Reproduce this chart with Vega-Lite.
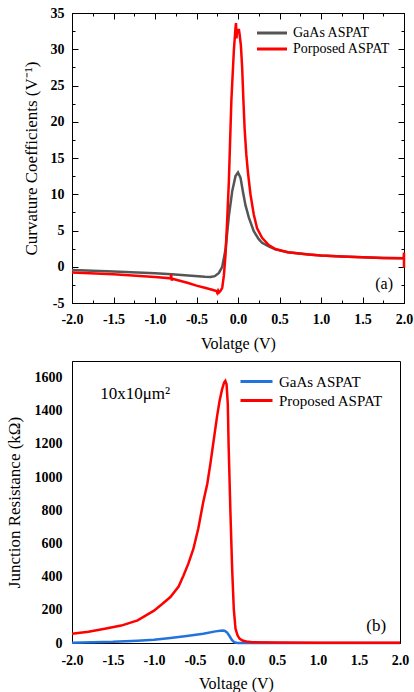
{
  "$schema": "https://vega.github.io/schema/vega-lite/v6.json",
  "padding": {"left": 4, "top": 5, "right": 0, "bottom": 0},
  "spacing": 8,
  "datasets": {
    "a": [
      {"v": -2.0, "k": -0.45, "s": "GaAs ASPAT"},
      {"v": -1.5, "k": -0.65, "s": "GaAs ASPAT"},
      {"v": -1.0, "k": -0.9, "s": "GaAs ASPAT"},
      {"v": -0.8, "k": -1.04, "s": "GaAs ASPAT"},
      {"v": -0.6, "k": -1.2, "s": "GaAs ASPAT"},
      {"v": -0.4, "k": -1.37, "s": "GaAs ASPAT"},
      {"v": -0.33, "k": -1.4, "s": "GaAs ASPAT"},
      {"v": -0.28, "k": -1.3, "s": "GaAs ASPAT"},
      {"v": -0.23, "k": -0.85, "s": "GaAs ASPAT"},
      {"v": -0.19, "k": 0.0, "s": "GaAs ASPAT"},
      {"v": -0.15, "k": 2.4, "s": "GaAs ASPAT"},
      {"v": -0.11, "k": 7.0, "s": "GaAs ASPAT"},
      {"v": -0.07, "k": 10.4, "s": "GaAs ASPAT"},
      {"v": -0.03, "k": 12.5, "s": "GaAs ASPAT"},
      {"v": 0.0, "k": 13.0, "s": "GaAs ASPAT"},
      {"v": 0.03, "k": 12.3, "s": "GaAs ASPAT"},
      {"v": 0.06, "k": 10.3, "s": "GaAs ASPAT"},
      {"v": 0.09, "k": 8.5, "s": "GaAs ASPAT"},
      {"v": 0.13, "k": 6.8, "s": "GaAs ASPAT"},
      {"v": 0.19, "k": 4.9, "s": "GaAs ASPAT"},
      {"v": 0.25, "k": 3.8, "s": "GaAs ASPAT"},
      {"v": 0.29, "k": 3.3, "s": "GaAs ASPAT"},
      {"v": 0.37, "k": 2.8, "s": "GaAs ASPAT"},
      {"v": 0.45, "k": 2.4, "s": "GaAs ASPAT"},
      {"v": 0.6, "k": 2.0, "s": "GaAs ASPAT"},
      {"v": 0.85, "k": 1.7, "s": "GaAs ASPAT"},
      {"v": 1.0, "k": 1.55, "s": "GaAs ASPAT"},
      {"v": 1.25, "k": 1.4, "s": "GaAs ASPAT"},
      {"v": 1.5, "k": 1.3, "s": "GaAs ASPAT"},
      {"v": 1.75, "k": 1.22, "s": "GaAs ASPAT"},
      {"v": 2.0, "k": 1.17, "s": "GaAs ASPAT"},
      {"v": -2.0, "k": -0.8, "s": "Porposed ASPAT"},
      {"v": -1.5, "k": -1.05, "s": "Porposed ASPAT"},
      {"v": -1.0, "k": -1.4, "s": "Porposed ASPAT"},
      {"v": -0.81, "k": -1.6, "s": "Porposed ASPAT"},
      {"v": -0.805, "k": -1.05, "s": "Porposed ASPAT"},
      {"v": -0.8, "k": -1.9, "s": "Porposed ASPAT"},
      {"v": -0.79, "k": -1.65, "s": "Porposed ASPAT"},
      {"v": -0.6, "k": -2.25, "s": "Porposed ASPAT"},
      {"v": -0.5, "k": -2.6, "s": "Porposed ASPAT"},
      {"v": -0.4, "k": -2.9, "s": "Porposed ASPAT"},
      {"v": -0.3, "k": -3.2, "s": "Porposed ASPAT"},
      {"v": -0.26, "k": -3.35, "s": "Porposed ASPAT"},
      {"v": -0.25, "k": -3.6, "s": "Porposed ASPAT"},
      {"v": -0.24, "k": -3.3, "s": "Porposed ASPAT"},
      {"v": -0.23, "k": -3.55, "s": "Porposed ASPAT"},
      {"v": -0.21, "k": -3.3, "s": "Porposed ASPAT"},
      {"v": -0.19, "k": -2.9, "s": "Porposed ASPAT"},
      {"v": -0.17, "k": -1.2, "s": "Porposed ASPAT"},
      {"v": -0.15, "k": 1.7, "s": "Porposed ASPAT"},
      {"v": -0.13, "k": 6.5, "s": "Porposed ASPAT"},
      {"v": -0.11, "k": 11.8, "s": "Porposed ASPAT"},
      {"v": -0.08, "k": 22.9, "s": "Porposed ASPAT"},
      {"v": -0.05, "k": 29.8, "s": "Porposed ASPAT"},
      {"v": -0.03, "k": 33.0, "s": "Porposed ASPAT"},
      {"v": -0.024, "k": 33.6, "s": "Porposed ASPAT"},
      {"v": -0.018, "k": 31.5, "s": "Porposed ASPAT"},
      {"v": -0.01, "k": 32.8, "s": "Porposed ASPAT"},
      {"v": 0.0, "k": 32.3, "s": "Porposed ASPAT"},
      {"v": 0.01, "k": 32.8, "s": "Porposed ASPAT"},
      {"v": 0.02, "k": 32.0, "s": "Porposed ASPAT"},
      {"v": 0.035, "k": 30.5, "s": "Porposed ASPAT"},
      {"v": 0.05, "k": 27.5, "s": "Porposed ASPAT"},
      {"v": 0.065, "k": 23.0, "s": "Porposed ASPAT"},
      {"v": 0.08, "k": 19.0, "s": "Porposed ASPAT"},
      {"v": 0.1, "k": 15.5, "s": "Porposed ASPAT"},
      {"v": 0.12, "k": 13.0, "s": "Porposed ASPAT"},
      {"v": 0.15, "k": 10.0, "s": "Porposed ASPAT"},
      {"v": 0.19, "k": 7.2, "s": "Porposed ASPAT"},
      {"v": 0.23, "k": 5.3, "s": "Porposed ASPAT"},
      {"v": 0.29, "k": 4.0, "s": "Porposed ASPAT"},
      {"v": 0.37, "k": 3.0, "s": "Porposed ASPAT"},
      {"v": 0.45, "k": 2.45, "s": "Porposed ASPAT"},
      {"v": 0.6, "k": 2.0, "s": "Porposed ASPAT"},
      {"v": 0.85, "k": 1.7, "s": "Porposed ASPAT"},
      {"v": 1.0, "k": 1.55, "s": "Porposed ASPAT"},
      {"v": 1.25, "k": 1.4, "s": "Porposed ASPAT"},
      {"v": 1.5, "k": 1.3, "s": "Porposed ASPAT"},
      {"v": 1.75, "k": 1.22, "s": "Porposed ASPAT"},
      {"v": 1.995, "k": 1.17, "s": "Porposed ASPAT"},
      {"v": 2.0, "k": 1.94, "s": "Porposed ASPAT"},
      {"v": 2.0, "k": -0.14, "s": "Porposed ASPAT"},
      {"v": 2.0, "k": 1.1, "s": "Porposed ASPAT"}
    ],
    "b": [
      {"v": -2.0, "r": 2, "s": "GaAs ASPAT"},
      {"v": -1.5, "r": 7, "s": "GaAs ASPAT"},
      {"v": -1.2, "r": 14, "s": "GaAs ASPAT"},
      {"v": -1.0, "r": 20, "s": "GaAs ASPAT"},
      {"v": -0.8, "r": 30, "s": "GaAs ASPAT"},
      {"v": -0.6, "r": 42, "s": "GaAs ASPAT"},
      {"v": -0.4, "r": 56, "s": "GaAs ASPAT"},
      {"v": -0.25, "r": 70, "s": "GaAs ASPAT"},
      {"v": -0.17, "r": 76, "s": "GaAs ASPAT"},
      {"v": -0.14, "r": 74, "s": "GaAs ASPAT"},
      {"v": -0.11, "r": 64, "s": "GaAs ASPAT"},
      {"v": -0.08, "r": 42, "s": "GaAs ASPAT"},
      {"v": -0.05, "r": 18, "s": "GaAs ASPAT"},
      {"v": -0.02, "r": 4, "s": "GaAs ASPAT"},
      {"v": 0.02, "r": 0.5, "s": "GaAs ASPAT"},
      {"v": 2.0, "r": 0.5, "s": "GaAs ASPAT"},
      {"v": -2.0, "r": 56, "s": "Proposed ASPAT"},
      {"v": -1.8, "r": 68, "s": "Proposed ASPAT"},
      {"v": -1.6, "r": 86, "s": "Proposed ASPAT"},
      {"v": -1.4, "r": 105, "s": "Proposed ASPAT"},
      {"v": -1.2, "r": 136, "s": "Proposed ASPAT"},
      {"v": -1.0, "r": 195, "s": "Proposed ASPAT"},
      {"v": -0.9, "r": 235, "s": "Proposed ASPAT"},
      {"v": -0.8, "r": 277, "s": "Proposed ASPAT"},
      {"v": -0.7, "r": 340, "s": "Proposed ASPAT"},
      {"v": -0.64, "r": 407, "s": "Proposed ASPAT"},
      {"v": -0.58, "r": 480, "s": "Proposed ASPAT"},
      {"v": -0.52, "r": 567, "s": "Proposed ASPAT"},
      {"v": -0.46, "r": 690, "s": "Proposed ASPAT"},
      {"v": -0.4, "r": 848, "s": "Proposed ASPAT"},
      {"v": -0.35, "r": 960, "s": "Proposed ASPAT"},
      {"v": -0.31, "r": 1088, "s": "Proposed ASPAT"},
      {"v": -0.27, "r": 1230, "s": "Proposed ASPAT"},
      {"v": -0.23, "r": 1369, "s": "Proposed ASPAT"},
      {"v": -0.2, "r": 1460, "s": "Proposed ASPAT"},
      {"v": -0.17, "r": 1529, "s": "Proposed ASPAT"},
      {"v": -0.145, "r": 1570, "s": "Proposed ASPAT"},
      {"v": -0.13, "r": 1580, "s": "Proposed ASPAT"},
      {"v": -0.115, "r": 1560, "s": "Proposed ASPAT"},
      {"v": -0.1, "r": 1440, "s": "Proposed ASPAT"},
      {"v": -0.09, "r": 1190, "s": "Proposed ASPAT"},
      {"v": -0.068, "r": 788, "s": "Proposed ASPAT"},
      {"v": -0.047, "r": 447, "s": "Proposed ASPAT"},
      {"v": -0.027, "r": 206, "s": "Proposed ASPAT"},
      {"v": -0.006, "r": 86, "s": "Proposed ASPAT"},
      {"v": 0.02, "r": 45, "s": "Proposed ASPAT"},
      {"v": 0.043, "r": 26, "s": "Proposed ASPAT"},
      {"v": 0.08, "r": 15, "s": "Proposed ASPAT"},
      {"v": 0.125, "r": 9, "s": "Proposed ASPAT"},
      {"v": 0.2, "r": 5, "s": "Proposed ASPAT"},
      {"v": 0.5, "r": 3, "s": "Proposed ASPAT"},
      {"v": 1.0, "r": 2, "s": "Proposed ASPAT"},
      {"v": 2.0, "r": 2, "s": "Proposed ASPAT"}
    ]
  },
  "vconcat": [
    {
      "width": 332,
      "height": 290,
      "layer": [
        {
          "data": {"name": "a"},
          "mark": {"type": "line", "strokeWidth": 2.5},
          "encoding": {
            "x": {"field": "v", "type": "quantitative",
              "scale": {"domain": [-2, 2], "nice": false, "zero": false},
              "axis": {"title": "Volatge (V)", "orient": "bottom", "labelOverlap": false, "labelFlush": false,
                "values": [-2, -1.75, -1.5, -1.25, -1, -0.75, -0.5, -0.25, 0, 0.25, 0.5, 0.75, 1, 1.25, 1.5, 1.75, 2],
                "labelExpr": "abs(datum.value*2 - round(datum.value*2)) < 0.01 ? replace(format(datum.value, '.1f'), '−', '-') : ''",
                "tickSize": {"condition": {"test": "abs(datum.value*2 - round(datum.value*2)) > 0.01", "value": -3}, "value": -6},
                "labelPadding": 15, "titlePadding": 6, "titleFontSize": 16}},
            "y": {"field": "k", "type": "quantitative",
              "scale": {"domain": [-5, 35], "nice": false, "zero": false},
              "axis": {"title": "Curvature Coefficients (V⁻¹)", "orient": "left", "labelOverlap": false, "labelFlush": false,
                "values": [-5, -2.5, 0, 2.5, 5, 7.5, 10, 12.5, 15, 17.5, 20, 22.5, 25, 27.5, 30, 32.5, 35],
                "labelExpr": "abs(datum.value/5 - round(datum.value/5)) < 0.01 ? replace(format(datum.value, 'd'), '−', '-') : ''",
                "tickSize": {"condition": {"test": "abs(datum.value/5 - round(datum.value/5)) > 0.01", "value": -3}, "value": -6},
                "labelPadding": 14, "titlePadding": 10, "titleFontSize": 17}},
            "color": {"field": "s", "type": "nominal",
              "scale": {"domain": ["GaAs ASPAT", "Porposed ASPAT"], "range": ["#555555", "#ff0000"]},
              "legend": {"title": null, "orient": "none", "legendX": 191, "legendY": 11,
                "symbolType": "M-2,0H2", "symbolSize": 225, "symbolStrokeWidth": 3,
                "labelFontSize": 14, "labelFont": "Liberation Serif", "labelFontWeight": "normal", "labelColor": "black",
                "rowPadding": 0, "labelOffset": 12}},
            "order": {"value": null}
          }
        },
        {
          "data": {"values": [{"v": 1.76, "k": -2.4, "t": "(a)"}]},
          "mark": {"type": "text", "fontSize": 16, "font": "Liberation Serif", "color": "black"},
          "encoding": {
            "x": {"field": "v", "type": "quantitative",
              "scale": {"domain": [-2, 2], "nice": false, "zero": false},
              "axis": {"title": null, "orient": "top", "labels": false,
                "values": [-2, -1.75, -1.5, -1.25, -1, -0.75, -0.5, -0.25, 0, 0.25, 0.5, 0.75, 1, 1.25, 1.5, 1.75, 2],
                "tickSize": {"condition": {"test": "abs(datum.value*2 - round(datum.value*2)) > 0.01", "value": -3}, "value": -6}}},
            "y": {"field": "k", "type": "quantitative",
              "scale": {"domain": [-5, 35], "nice": false, "zero": false},
              "axis": {"title": null, "orient": "right", "labels": false,
                "values": [-5, -2.5, 0, 2.5, 5, 7.5, 10, 12.5, 15, 17.5, 20, 22.5, 25, 27.5, 30, 32.5, 35],
                "tickSize": {"condition": {"test": "abs(datum.value/5 - round(datum.value/5)) > 0.01", "value": -3}, "value": -6}}},
            "text": {"field": "t"}
          }
        }
      ],
      "resolve": {"axis": {"x": "independent", "y": "independent"}}
    },
    {
      "width": 328,
      "height": 282,
      "layer": [
        {
          "data": {"name": "b"},
          "mark": {"type": "line", "strokeWidth": 2.5},
          "encoding": {
            "x": {"field": "v", "type": "quantitative",
              "scale": {"domain": [-2, 2], "nice": false, "zero": false},
              "axis": {"title": "Voltage (V)", "values": [-2, -1.5, -1, -0.5, 0, 0.5, 1, 1.5, 2], "labelOverlap": false, "labelFlush": false,
                "labelExpr": "replace(format(datum.value, '.1f'), '−', '-')",
                "ticks": false, "labelPadding": 10, "titlePadding": 8, "titleFontSize": 16}},
            "y": {"field": "r", "type": "quantitative",
              "scale": {"domain": [0, 1700], "nice": false, "zero": false},
              "axis": {"title": "Junction Resistance (kΩ)",
                "values": [0, 200, 400, 600, 800, 1000, 1200, 1400, 1600],
                "labelOverlap": false, "labelFlush": false, "labelSeparation": -30,
                "labelExpr": "format(datum.value, 'd')",
                "ticks": false, "labelPadding": 10, "titlePadding": 11, "titleFontSize": 17}},
            "color": {"field": "s", "type": "nominal",
              "scale": {"domain": ["GaAs ASPAT", "Proposed ASPAT"], "range": ["#2273dc", "#ff0000"]},
              "legend": {"title": null, "orient": "none", "legendX": 175, "legendY": 11,
                "symbolType": "M-2,0H2", "symbolSize": 256, "symbolStrokeWidth": 3,
                "labelFontSize": 15, "labelFont": "Liberation Serif", "labelFontWeight": "normal", "labelColor": "black",
                "rowPadding": 1, "labelOffset": 13}},
            "order": {"value": null}
          }
        },
        {
          "data": {"values": [{"v": 1.71, "r": 102, "t": "(b)"}, {"v": -1.23, "r": 1500, "t": "10x10μm²"}]},
          "mark": {"type": "text", "fontSize": 17, "font": "Liberation Serif", "color": "black"},
          "encoding": {
            "x": {"field": "v", "type": "quantitative", "scale": {"domain": [-2, 2], "nice": false, "zero": false}, "axis": null},
            "y": {"field": "r", "type": "quantitative", "scale": {"domain": [0, 1700], "nice": false, "zero": false}, "axis": null},
            "text": {"field": "t"}
          }
        }
      ],
      "resolve": {"axis": {"x": "independent", "y": "independent"}}
    }
  ],
  "resolve": {"scale": {"color": "independent"}, "legend": {"color": "independent"}},
  "config": {
    "font": "Liberation Serif",
    "view": {"stroke": "black", "strokeWidth": 1},
    "axis": {"grid": false, "domainColor": "black", "domainWidth": 1, "tickColor": "black", "tickWidth": 1,
      "labelFont": "Liberation Serif", "labelFontWeight": "bold", "labelFontSize": 14, "labelColor": "black",
      "labelOverlap": false, "titleFont": "Liberation Serif", "titleFontWeight": "normal", "titleColor": "black"}
  }
}
